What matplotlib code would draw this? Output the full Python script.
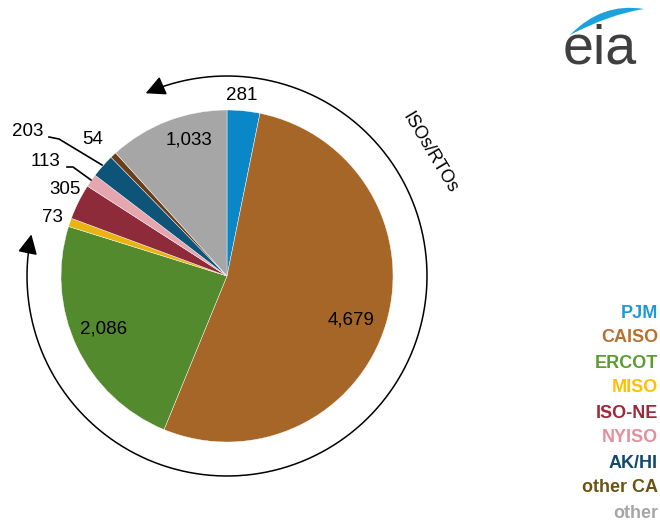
import numpy as np
import matplotlib
matplotlib.use("Agg")
import matplotlib.pyplot as plt
from matplotlib.path import Path
from matplotlib.patches import FancyArrowPatch, PathPatch

plt.rcParams["font.family"] = ["Liberation Sans", "DejaVu Sans"]

## Data: capacity by region (clockwise from 12 o'clock)
regions = ["PJM", "CAISO", "ERCOT", "MISO", "ISO-NE", "NYISO", "AK/HI", "other CA", "other"]
values = [281, 4679, 2086, 73, 305, 113, 203, 54, 1033]
slice_colors = ["#0A87C6", "#A66627", "#548A2E", "#E9B311", "#8E2B3A",
                "#E5A6B0", "#0E5478", "#6A3E1A", "#A6A6A6"]
legend_colors = ["#1D9AD6", "#B8702E", "#5B9B32", "#FFC000", "#A02838",
                 "#E48E9C", "#0F4A6B", "#6B5311", "#A6A6A6"]
value_labels = ["281", "4,679", "2,086", "73", "305", "113", "203", "54", "1,033"]

W, H = 660, 523
## label positions in pixel coords (x, y from top)
label_pos = [(242, 96), (351, 320), (104, 329), (52, 218), (65, 190),
             (46, 162), (28, 132), (93, 139), (189, 140)]

fig = plt.figure(figsize=(W / 100, H / 100), dpi=100)
ax = fig.add_axes([0, 0, 1, 1])

cx, cy, R = 227, H - 276, 166

ax.pie(values, colors=slice_colors, startangle=90, counterclock=False,
       center=(cx, cy), radius=R, frame=True,
       wedgeprops=dict(edgecolor="white", linewidth=0.3))
ax.set_xlim(0, W)
ax.set_ylim(0, H)
ax.set_aspect("equal")
ax.axis("off")

for lab, (px, py) in zip(value_labels, label_pos):
    ax.text(px, H - py, lab, fontsize=13.5, ha="center", va="center", color="black")

## leader lines for 203 and 113
ax.plot([49, 59, 102], [H - 137, H - 139, H - 165], color="black", lw=1.2)
ax.plot([67, 73, 91], [H - 167, H - 167, H - 180], color="black", lw=1.2)

## outer arc with arrows on both ends
Ra = 200
theta = np.radians(np.linspace(114, -192, 300))
verts = np.column_stack([cx + Ra * np.cos(theta), cy + Ra * np.sin(theta)])
arc = FancyArrowPatch(path=Path(verts), arrowstyle="<|-|>,head_length=1.0,head_width=0.5",
                      mutation_scale=12, color="black", lw=1.1,
                      shrinkA=0, shrinkB=0)
ax.add_patch(arc)

ax.text(430, H - 153, "ISOs/RTOs", fontsize=13, rotation=-59,
        ha="center", va="center", rotation_mode="anchor")

## legend as coloured text
for i, (name, col) in enumerate(zip(regions, legend_colors)):
    ax.text(658, H - (313 + i * 25), name, fontsize=13, fontweight="bold",
            color=col, ha="right", va="center")

## eia logo
ax.text(600, H - 50, "eia", fontsize=40, color="#3F3F3F", ha="center", va="center")
sw = Path([(570, H - 35), (602, H - 2), (644, H - 9),
           (610, H - 14), (570, H - 35)],
          [Path.MOVETO, Path.CURVE3, Path.CURVE3, Path.CURVE3, Path.CURVE3])
ax.add_patch(PathPatch(sw, facecolor="#1BA1DC", edgecolor="none"))

fig.savefig("out.png", dpi=100)
